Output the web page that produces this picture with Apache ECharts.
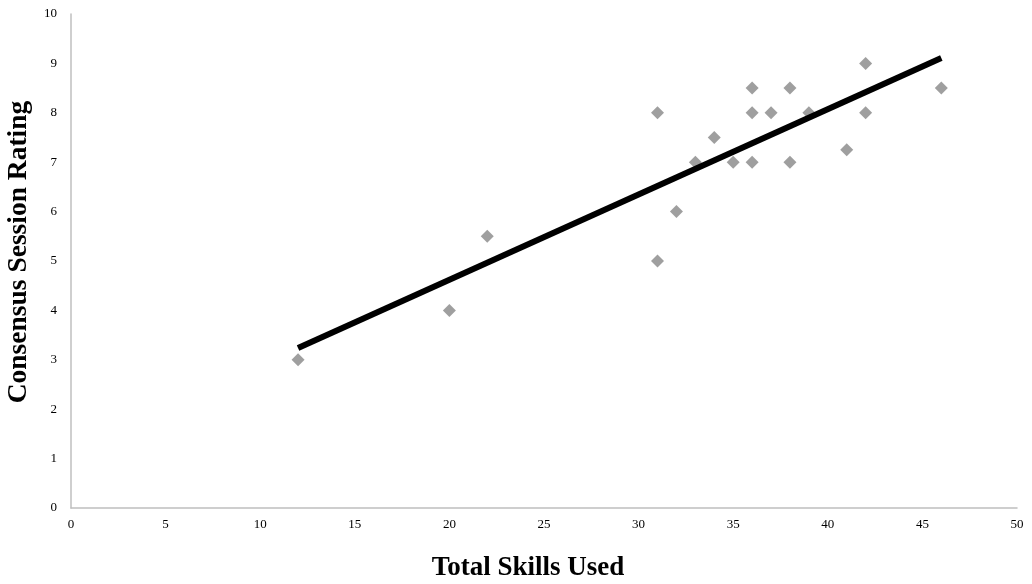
<!DOCTYPE html>
<html><head><meta charset="utf-8">
<script src="https://cdn.jsdelivr.net/npm/echarts@6/dist/echarts.min.js"></script>
<style>html,body{margin:0;padding:0;background:#fff}#c{width:1032px;height:584px}</style>
</head><body><div id="c"></div>
<script>
const skills = [12, 20, 22, 31, 31, 32, 33, 34, 35, 36, 36, 36, 37, 38, 38, 39, 41, 42, 42, 46];
const ratings = [3, 4, 5.5, 8, 5, 6, 7, 7.5, 7, 8.5, 8, 7, 8, 8.5, 7, 8, 7.25, 9, 8, 8.5];
const trendX = [12, 46];
const trendY = [3.24, 9.11];
const xTitle = 'Total Skills Used';
const yTitle = 'Consensus Session Rating';

const chart = echarts.init(document.getElementById('c'), null, {renderer: 'canvas'});
const font = 'Liberation Serif, Times New Roman, serif';
chart.setOption({
  animation: false,
  grid: {left: 71, right: 15, top: 14, bottom: 76, containLabel: false, outerBoundsMode: 'none'},
  xAxis: {
    type: 'value', min: 0, max: 50, interval: 5,
    name: xTitle, nameLocation: 'middle', nameGap: 47,
    nameTextStyle: {fontFamily: font, fontSize: 27, fontWeight: 'bold', color: '#000', padding: [0, 32, 0, 0]},
    axisLine: {show: true, lineStyle: {color: '#bfbfbf', width: 1.5}},
    axisTick: {show: false},
    splitLine: {show: false},
    axisLabel: {fontFamily: font, fontSize: 13, color: '#000', margin: 10}
  },
  yAxis: {
    type: 'value', min: 0, max: 10, interval: 1,
    name: yTitle, nameLocation: 'middle', nameGap: 28, nameRotate: 90,
    nameTextStyle: {fontFamily: font, fontSize: 27.5, fontWeight: 'bold', color: '#000', padding: [0, 0, 0, 18]},
    axisLine: {show: true, lineStyle: {color: '#bfbfbf', width: 1.5}},
    axisTick: {show: false},
    splitLine: {show: false},
    axisLabel: {fontFamily: font, fontSize: 13, color: '#000', margin: 14}
  },
  series: [
    {
      type: 'scatter', symbol: 'diamond', symbolSize: 13,
      itemStyle: {color: '#878787'},
      data: skills.map((x, i) => [x, ratings[i]]),
      z: 2
    },
    {
      type: 'line', symbol: 'none', silent: true,
      lineStyle: {color: '#000', width: 6, cap: 'butt'},
      data: trendX.map((x, i) => [x, trendY[i]]),
      z: 3
    }
  ]
});
</script></body></html>
